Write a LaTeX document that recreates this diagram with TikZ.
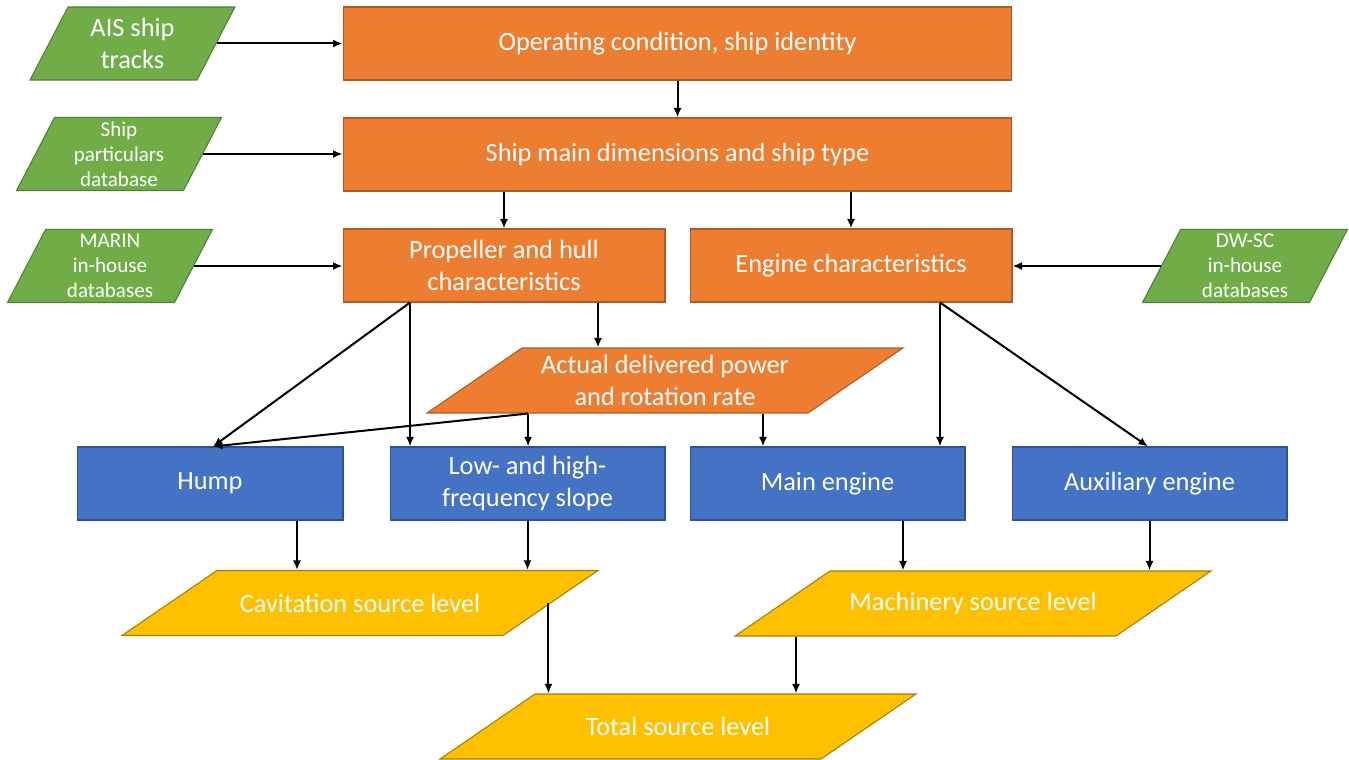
\documentclass[tikz,border=0pt]{standalone}
\usepackage{fontspec}
\setmainfont{Carlito}
\usetikzlibrary{shapes.geometric,arrows.meta}

\definecolor{orangefill}{HTML}{ED7D31}
\definecolor{orangeline}{HTML}{AE5A21}
\definecolor{greenfill}{HTML}{70AD47}
\definecolor{greenline}{HTML}{507E32}
\definecolor{bluefill}{HTML}{4472C4}
\definecolor{blueline}{HTML}{2F528F}
\definecolor{yellowfill}{HTML}{FFC000}
\definecolor{yellowline}{HTML}{A07E10}

\tikzset{
    base/.style={text=white, line width=0.6pt, inner sep=0pt,
        font=\fontsize{15}{18.2}\selectfont},
    smalltext/.style={font=\fontsize{12}{14.2}\selectfont},
    orangebox/.style={base, align=center, rectangle, fill=orangefill, draw=orangeline, minimum height=14.6mm},
    bluebox/.style={base, align=center, rectangle, fill=bluefill, draw=blueline, minimum width=55mm, minimum height=14.6mm},
    slanted/.style={base, trapezium, trapezium left angle=34.4, trapezium right angle=145.6,
        trapezium stretches body, minimum width=95.2mm,
        execute at begin node={\begin{minipage}[c][13mm][c]{50mm}\centering},
        execute at end node={\end{minipage}}},
    orangedata/.style={slanted, fill=orangefill, draw=orangeline},
    yellowdata/.style={slanted, fill=yellowfill, draw=yellowline},
    source/.style={base, trapezium, trapezium left angle=62.5, trapezium right angle=117.5,
        trapezium stretches body, minimum width=41mm,
        execute at begin node={\begin{minipage}[c][14.6mm][c]{22mm}\centering},
        execute at end node={\end{minipage}},
        fill=greenfill, draw=greenline},
    arr/.style={-{Latex[length=1.9mm,width=1.6mm]}, line width=0.4mm},
}

\begin{document}
\begin{tikzpicture}[x=0.02cm,y=-0.02cm]
    \useasboundingbox (0,0) rectangle (1349,760);

    % inputs
    \node[source] (ais) at (132.5,43.5) {AIS ship\\tracks};
    \node[source, smalltext] (particulars) at (119,154) {Ship\\particulars\\database};
    \node[source, smalltext] (marin) at (110,266) {MARIN\\in-house\\databases};
    \node[source, smalltext] (dwsc) at (1245,266) {DW-SC\\in-house\\databases};

    % ship data
    \node[orangebox, minimum width=133.8mm] (opcond) at (677.5,43.5) {Operating condition, ship identity};
    \node[orangebox, minimum width=133.8mm] (maindim) at (677.5,154.5) {Ship main dimensions and ship type};
    \node[orangebox, minimum width=64.4mm] (prophull) at (504,265.5) {Propeller and hull\\characteristics};
    \node[orangebox, minimum width=64.4mm] (enginechar) at (851,265.5) {Engine characteristics};
    \node[orangedata] (power) at (665,380.5) {Actual delivered power\\and rotation rate};

    % noise components
    \node[bluebox, minimum width=53.2mm] (hump) at (210,483.5) {Hump};
    \node[bluebox] (slope) at (527.5,483.5) {Low- and high-\\frequency slope};
    \node[bluebox] (mainengine) at (827.5,483.5) {Main engine};
    \node[bluebox] (auxengine) at (1149.5,483.5) {Auxiliary engine};

    % source levels
    \node[yellowdata] (cavitation) at (360,603) {Cavitation source level};
    \node[yellowdata] (machinery) at (973,603.5) {Machinery source level};
    \node[yellowdata] (total) at (678,726.5) {Total source level};

    \coordinate (phleft) at ([xshift=-18.8mm]prophull.south);
    \coordinate (pwleft) at ([xshift=-27.4mm]power.south);
    \coordinate (ecright) at ([xshift=17.8mm]enginechar.south);

    \draw[arr] (ais.east) -- (ais.east -| opcond.west);
    \draw[arr] (particulars.east) -- (particulars.east -| maindim.west);
    \draw[arr] (marin.east) -- (marin.east -| prophull.west);
    \draw[arr] (dwsc.west) -- (dwsc.west -| enginechar.east);
    \draw[arr] (opcond) -- (maindim);
    \draw[arr] (maindim.south -| prophull) -- (prophull);
    \draw[arr] (maindim.south -| enginechar) -- (enginechar);
    \draw[arr] ([xshift=18.8mm]prophull.south) -- ([xshift=18.8mm]prophull.south |- power.north);
    \draw[arr] (phleft) -- (phleft |- slope.north);
    \draw[arr] (phleft) -- ([xshift=0.6mm]hump.north);
    \draw[arr] (pwleft) -- (pwleft |- slope.north);
    \draw[arr] (pwleft) -- ([xshift=0.6mm]hump.north);
    \draw[arr] ([xshift=19.6mm]power.south) -- ([xshift=19.6mm]power.south |- mainengine.north);
    \draw[arr] (ecright) -- (ecright |- mainengine.north);
    \draw[arr] (ecright) -- ([xshift=-0.3mm]auxengine.north);
    \draw[arr] ([xshift=17.4mm]hump.south) -- ([xshift=17.4mm]hump.south |- cavitation.north);
    \draw[arr] (slope.south) -- (slope.south |- cavitation.north);
    \draw[arr] ([xshift=15.1mm]mainengine.south) -- ([xshift=15.1mm]mainengine.south |- machinery.north);
    \draw[arr] (auxengine.south) -- (auxengine.south |- machinery.north);
    \draw[arr] ([xshift=-0.6mm]cavitation.east) -- ([xshift=-0.6mm]cavitation.east |- total.north);
    \draw[arr] ([xshift=-35.4mm]machinery.south) -- ([xshift=-35.4mm]machinery.south |- total.north);
\end{tikzpicture}
\end{document}
